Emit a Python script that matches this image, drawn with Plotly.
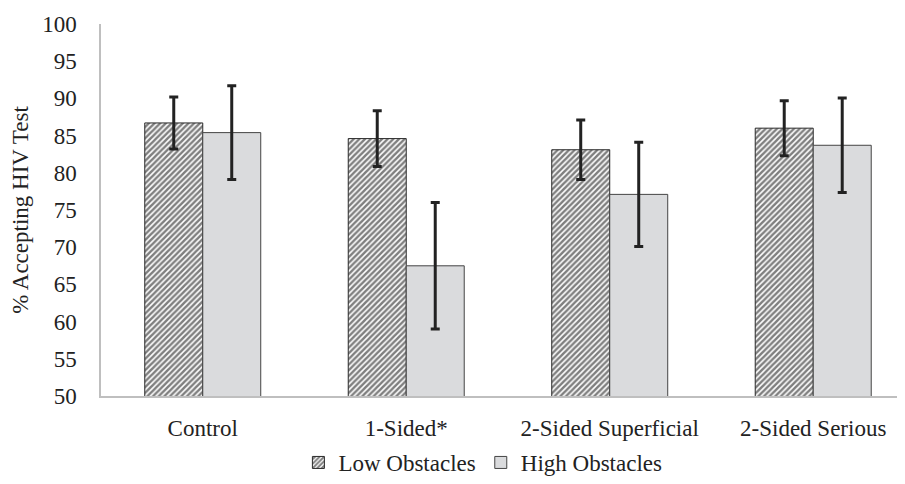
import plotly.graph_objects as go

categories = ["Control", "1-Sided*", "2-Sided Superficial", "2-Sided Serious"]
low_values = [86.7, 84.6, 83.1, 86.0]
low_err = [3.5, 3.75, 4.0, 3.7]
high_values = [85.4, 67.5, 77.1, 83.7]
high_err = [6.3, 8.5, 7.0, 6.35]
y_ticks = [50, 55, 60, 65, 70, 75, 80, 85, 90, 95, 100]

FONT = "Times New Roman, Liberation Serif, DejaVu Serif, serif"
FS = 23

fig = go.Figure()
fig.add_trace(go.Bar(
    name="Low Obstacles", x=categories, y=low_values,
    marker=dict(color="white", line=dict(color="#2a2a2a", width=1),
                pattern=dict(shape="/", fgcolor="#000000", bgcolor="white", size=4, solidity=0.62)),
    error_y=dict(type="data", array=low_err, visible=True, color="#222222", thickness=3, width=4.5),
))
fig.add_trace(go.Bar(
    name="High Obstacles", x=categories, y=high_values,
    marker=dict(color="#dadbdd", line=dict(color="#444444", width=1)),
    error_y=dict(type="data", array=high_err, visible=True, color="#222222", thickness=3, width=4.5),
))

fig.update_layout(
    width=897, height=476,
    margin=dict(l=93, r=0, t=16, b=83),
    paper_bgcolor="white", plot_bgcolor="white",
    barmode="group", bargap=0.43, bargroupgap=0,
    font=dict(family=FONT, size=FS, color="#222222"),
    showlegend=True,
    legend=dict(orientation="h", x=0.475, xanchor="center", y=-0.18, yanchor="middle",
                font=dict(family=FONT, size=FS, color="#222222"), itemwidth=30,
                traceorder="normal"),
)
fig.update_xaxes(
    type="category", range=[-0.5, 3.451],
    showline=True, linecolor="#bfbfbf", linewidth=1.5,
    showgrid=False, ticks="", ticklabelstandoff=11,
    tickfont=dict(family=FONT, size=FS, color="#222222"),
)
fig.update_yaxes(
    range=[50, 100], tickvals=y_ticks,
    showline=True, linecolor="#bfbfbf", linewidth=1.5,
    showgrid=False, zeroline=False, ticks="", ticklabelstandoff=18,
    tickfont=dict(family=FONT, size=FS, color="#222222"),
    title=dict(text="% Accepting HIV Test", font=dict(family=FONT, size=FS, color="#222222"), standoff=8),
)

fig.write_html("out.html")
